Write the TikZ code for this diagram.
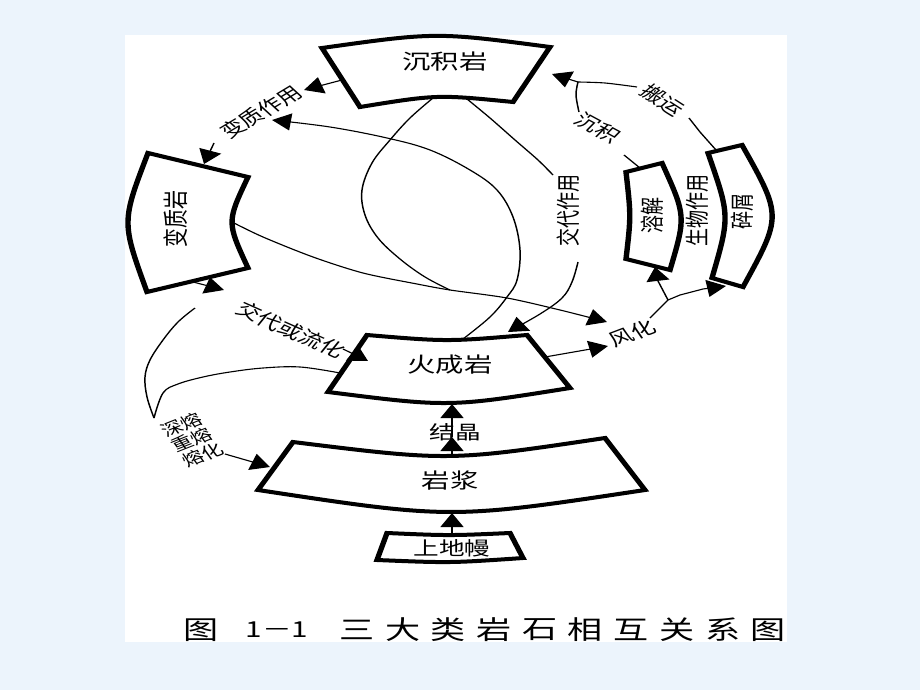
\documentclass[tikz,border=0pt]{standalone}
\usepackage{fontspec}
\setmainfont{Noto Sans CJK SC}
\usetikzlibrary{arrows.meta}
\definecolor{bgblue}{RGB}{236,244,252}
\begin{document}
\begin{tikzpicture}[x=1pt,y=-1pt]
\useasboundingbox (0,0) rectangle (920,690);
\fill[bgblue] (0,0) rectangle (920,690);
\fill[white] (125,35) rectangle (787,642);
\begin{scope}[transform canvas={xscale=1.35}, x=0.740741pt, y=-1pt,
  box/.style={line width=4pt, line join=miter},
  conn/.style={line width=1.1pt},
  tip/.style={-{Triangle[length=14pt,width=17pt]}},
  boxtxt/.style={inner sep=0pt, font=\fontsize{21}{24}\selectfont},
  smtxt/.style={inner sep=0pt, font=\fontsize{18}{20}\selectfont},
  captxt/.style={inner sep=0pt, font=\fontsize{26}{28}\selectfont}]

% ---------- boxes ----------
\draw[box] (322,48) .. controls (436,32) .. (550,47) -- (513,102) .. controls (437,94.5) .. (360,107) -- cycle;
\draw[box] (148,153) -- (248,177) .. controls (226.7,222) .. (248,268) -- (147,292) .. controls (121.5,222) .. (148,153) -- cycle;
\draw[box] (626,172) -- (662,163) .. controls (686,216) .. (670,270) -- (626,259) .. controls (631,216) .. (626,172) -- cycle;
\draw[box] (708,153) -- (742,145) .. controls (782,216) .. (743,287) -- (712,278) .. controls (730,216) .. (708,153) -- cycle;
\draw[box] (367,335) .. controls (447,341.7) .. (527,335) -- (570,388) .. controls (449,407.3) .. (328,392) -- cycle;
\draw[box] (293,442) .. controls (449,461.3) .. (605,438) -- (645,490) .. controls (451,519.3) .. (258,490) -- cycle;
\draw[box] (387,533) .. controls (449,535.7) .. (510,533) -- (523,558) .. controls (450,563) .. (377,560) -- cycle;

% ---------- box labels ----------
\node[boxtxt] (tSed) at (445,62) {沉积岩};
\node[boxtxt] (tIgn) at (450,365) {火成岩};
\node[boxtxt] (tMag) at (450,480) {岩浆};
\node[boxtxt, font=\fontsize{19}{21}\selectfont] (tMan) at (452,548) {上地幔};
\node[smtxt, font=\fontsize{19}{21}\selectfont, rotate=90] (tMet) at (176,219) {变质岩};
\node[smtxt, rotate=90] (tSol) at (652,215) {溶解};
\node[smtxt, rotate=90] (tCla) at (742,211) {碎屑};

% ---------- process labels ----------
\node[smtxt, font=\fontsize{19}{21}\selectfont] (tCry) at (455,432) {结晶};
\node[smtxt, rotate=39] (tMetP) at (261,112) {变质作用};
\node[smtxt, rotate=90] (tRep) at (568,210) {交代作用};
\node[smtxt, rotate=90] (tBio) at (697,210) {生物作用};
\node[smtxt, rotate=-36] (tDep) at (598,128) {沉积};
\node[smtxt, rotate=-41] (tTra) at (663,100) {搬运};
\node[smtxt, rotate=27] (tWea) at (632,333) {风化};
\node[smtxt, rotate=-31] (tRM) at (291,330) {交代或流化};
\node[smtxt, font=\fontsize{16}{17}\selectfont, rotate=28, align=center] (tMelt) at (192,440) {深熔\\重熔\\熔化};

% ---------- named points ----------
\coordinate (manT) at (452,534);
\coordinate (magB) at (452,513);
\coordinate (magT) at (452,457);
\coordinate (cryM) at (452,437);
\coordinate (ignB) at (452,404);
\coordinate (sedL) at (342,80);
\coordinate (mpA) at (304,90);
\coordinate (mpB) at (214,143);
\coordinate (metT) at (204,164);
\coordinate (ignT) at (463,339);
\coordinate (mpC) at (272,120);
\coordinate (sedB) at (433,98);
\coordinate (wJ) at (450,290);
\coordinate (metR) at (232,222);
\coordinate (weaA) at (607,322);
\coordinate (sedBR) at (467,99);
\coordinate (repA) at (553,175);
\coordinate (repB) at (578,262);
\coordinate (ignTR) at (508,332);
\coordinate (ignR) at (545,357);
\coordinate (weaB) at (608,346);
\coordinate (weaS) at (650,318);
\coordinate (weaJ) at (668,300);
\coordinate (solB) at (655,267);
\coordinate (claB) at (726,286);
\coordinate (solT) at (640,168);
\coordinate (depA) at (624,155);
\coordinate (depB) at (579,112);
\coordinate (K) at (578,82);
\coordinate (sedR) at (552,74);
\coordinate (claT) at (716,150);
\coordinate (traA) at (689,118);
\coordinate (traB) at (637,87);
\coordinate (metB) at (193,282);
\coordinate (rmA) at (224,290);
\coordinate (rmB) at (343,349);
\coordinate (ignL) at (368,361);
\coordinate (ignL2) at (340,373);
\coordinate (c2s) at (195,308);
\coordinate (V) at (154,418);
\coordinate (meltA) at (225,454);
\coordinate (magL) at (270,467);

% ---------- connectors ----------
\draw[conn,tip] (manT) -- (magB);
\draw[conn,tip] (magT) -- (cryM);
\draw[conn,tip] (cryM) -- (ignB);
\draw[conn,tip] (sedL) -- (mpA);
\draw[conn,tip] (mpB) -- (metT);
\draw[conn,tip] plot[smooth, tension=0.6] coordinates {(ignT) (490,317) (507,297) (517,280) (520,250) (513,217) (497,190) (470,170) (430,150) (387,138) (330,127) (mpC)};
\draw[conn] plot[smooth, tension=0.6] coordinates {(sedB) (410,118) (390,140) (372,163) (362,190) (365,215) (378,238) (400,259) (425,277) (wJ)};
\draw[conn,tip] plot[smooth, tension=0.5] coordinates {(metR) (263,237) (313,257) (363,273) (417,284) (wJ) (507,298) (560,310) (weaA)};
\draw[conn] plot[smooth, tension=0.5] coordinates {(sedBR) (490,118) (515,140) (538,160) (repA)};
\draw[conn,tip] plot[smooth, tension=0.6] coordinates {(repB) (572,282) (562,298) (540,314) (ignTR)};
\draw[conn,tip] (ignR) -- (weaB);
\draw[conn] (weaS) -- (weaJ);
\draw[conn,tip] (weaJ) -- (658,281) -- (solB);
\draw[conn,tip] (weaJ) -- (680,295) -- (703,289) -- (claB);
\draw[conn] (solT) -- (depA);
\draw[conn] plot[smooth, tension=0.6] coordinates {(depB) (576,95) (K)};
\draw[conn] (claT) -- (700,132) -- (traA);
\draw[conn] plot[smooth, tension=0.5] coordinates {(traB) (605,83) (K)};
\draw[conn,tip] (K) -- (sedR);
\draw[conn,tip] (metB) -- (rmA);
\draw[conn,tip] (rmB) -- (ignL);
\draw[conn] plot[smooth, tension=0.6] coordinates {(ignL2) (300,367) (263,368) (230,372) (203,377) (178,384) (163,393) (V)};
\draw[conn] plot[smooth, tension=0.6] coordinates {(c2s) (178,322) (163,340) (150,360) (145,377) (147,397) (V)};
\draw[conn,tip] (meltA) -- (magL);

% ---------- caption ----------
\node[captxt] (capFig) at (201,630) {图};
\node[captxt, font=\fontsize{22}{24}\selectfont] (capNum) at (277,630) {1－1};
\foreach \c [count=\i from 0] in {三,大,类,岩,石,相,互,关,系,图}
  \node[captxt] (cap\i) at ({357+45.7*\i},630) {\c};
\end{scope}
\end{tikzpicture}
\end{document}
